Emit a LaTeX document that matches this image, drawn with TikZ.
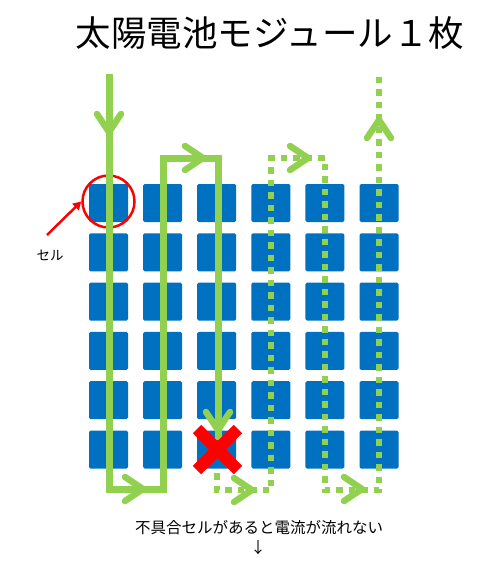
\documentclass[tikz,border=0pt]{standalone}
\usepackage{fontspec}
\newfontfamily\jp{Noto Sans CJK JP}
\usetikzlibrary{arrows.meta}
\definecolor{cellblue}{RGB}{0,112,192}
\definecolor{flowgreen}{RGB}{146,208,80}
\newcommand{\flowchev}[3]{\draw[chev, shift={(#1,#2)}, rotate=#3] (-18,-12)--(0,0)--(-18,12);}

\begin{document}
\begin{tikzpicture}[x=1pt,y=-1pt,
  cell/.style={rectangle, fill=cellblue, minimum width=39pt, minimum height=38pt, inner sep=0pt, rounded corners=1.5pt},
  flow/.style={draw=flowgreen, line width=7pt},
  dots/.style={draw=flowgreen, line width=6.5pt, dash pattern=on 6.5pt off 6pt},
  chev/.style={draw=flowgreen, line width=6.5pt, line cap=round, line join=round}]
\useasboundingbox (0,0) rectangle (500,570);
\node[font=\jp\fontsize{35.5}{40}\selectfont] (title) at (270,33) {太陽電池モジュール１枚};
%cells
\foreach \i in {0,...,5}
  \foreach \j in {0,...,5}
    \node[cell] (c\i\j) at (108.5+54.1*\i,203+49.3*\j) {};
\node[circle, draw=red, line width=2.5pt, minimum size=52pt, inner sep=0pt] (ring) at (108.5,201.5) {};
\node[font=\jp\fontsize{13.5}{16}\selectfont] (label) at (50,255) {セル};
\coordinate (tail) at (47,235);
\draw[red, line width=2.5pt, -{Triangle[length=8pt,width=9pt]}] (tail) -- (ring.west);
%current
\draw[flow] (109,74) -- (109,489) -- (163,489) -- (163,158) -- (218,158) -- (218,440);
\draw[dots] (217,473) -- (217,490) -- (271,490) -- (271,158) -- (325,158) -- (325,490) -- (379,490) -- (379,74);
\flowchev{109}{132}{-90}
\flowchev{143}{489}{0}
\flowchev{203}{158}{0}
\flowchev{218}{430}{-90}
\flowchev{252}{490}{0}
\flowchev{308}{158}{0}
\flowchev{362}{489}{0}
\flowchev{379}{120}{90}
%bad cell
\draw[red, line width=12pt] (197,429) -- (238,470) (238,429) -- (197,470);
\node[font=\jp\fontsize{15.5}{18}\selectfont] (note) at (259,528) {不具合セルがあると電流が流れない};
\node[font=\jp\fontsize{15.5}{18}\selectfont] (down) at (258,548) {↓};
\end{tikzpicture}
\end{document}
